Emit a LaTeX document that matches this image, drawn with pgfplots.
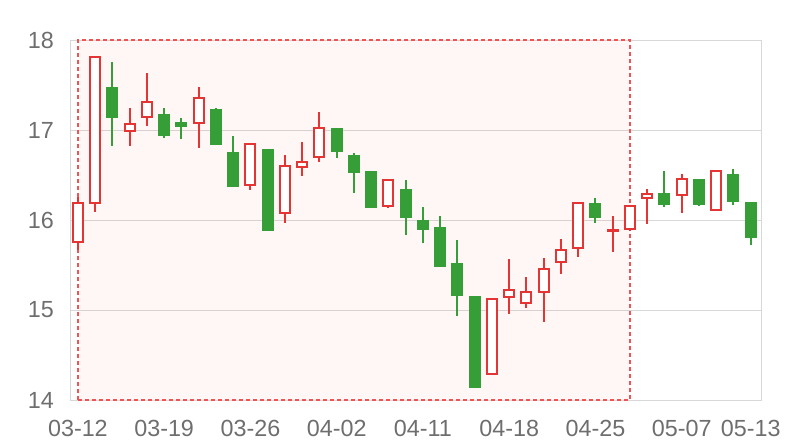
\documentclass[border=0pt]{standalone}
\usepackage{pgfplots}
\pgfplotsset{compat=1.18}
\usepackage{pgfplotstable}
\usepgfplotslibrary{statistics}
\usepackage{fontspec}
\setmainfont{Liberation Sans}
\definecolor{upred}{RGB}{228,52,52}
\definecolor{downgreen}{RGB}{54,158,54}
\definecolor{gridgray}{RGB}{216,216,216}
\definecolor{labelgray}{RGB}{110,110,110}
\definecolor{areared}{RGB}{238,84,84}
\definecolor{areafill}{RGB}{255,0,0}

% up candles (close >= open): red hollow
\pgfplotstableread{
x open close high low
0 15.76 16.19 16.26 15.67
1 16.19 17.81 17.81 16.09
3 16.99 17.07 17.25 16.82
4 17.14 17.31 17.63 17.04
7 17.08 17.36 17.48 16.80
10 16.39 16.85 16.85 16.33
12 16.08 16.60 16.72 15.97
13 16.59 16.64 16.87 16.49
14 16.70 17.02 17.20 16.65
18 16.16 16.44 16.44 16.13
24 14.29 15.12 15.13 14.29
25 15.14 15.22 15.57 14.96
26 15.08 15.20 15.37 15.02
27 15.20 15.46 15.58 14.87
28 15.53 15.67 15.79 15.40
29 15.69 16.19 16.19 15.59
31 15.88 15.89 16.04 15.65
32 15.90 16.16 16.16 15.88
33 16.24 16.29 16.34 15.96
35 16.28 16.46 16.51 16.08
37 16.11 16.54 16.56 16.10
}\uptable

% down candles (close < open): green filled
\pgfplotstableread{
x open close high low
2 17.47 17.15 17.76 16.82
5 17.17 16.94 17.25 16.91
6 17.08 17.04 17.13 16.90
8 17.22 16.84 17.24 16.83
9 16.75 16.38 16.93 16.38
11 16.78 15.89 16.78 15.89
15 17.01 16.77 17.01 16.69
16 16.71 16.53 16.74 16.30
17 16.53 16.15 16.54 16.14
19 16.33 16.03 16.44 15.83
20 15.99 15.90 16.14 15.74
21 15.91 15.49 16.04 15.49
22 15.51 15.17 15.78 14.93
23 15.15 14.14 15.15 14.14
30 16.18 16.03 16.25 15.97
34 16.29 16.18 16.54 16.14
36 16.45 16.18 16.45 16.16
38 16.50 16.21 16.57 16.17
39 16.19 15.81 16.19 15.72
}\downtable

% marked area
\pgfplotstableread{
x y
0 14
0 18
32 18
32 14
0 14
}\areatable

\begin{document}
\begin{tikzpicture}
\begin{axis}[
  scale only axis,
  width=517.5pt, height=270pt,
  xmin=-0.4, xmax=39.6,
  ymin=14, ymax=18,
  clip=false,
  axis line style={draw=gridgray, line width=0.75pt},
  ymajorgrids, grid style={draw=gridgray, line width=0.75pt},
  major tick length=0pt,
  xtick={0,5,10,15,20,25,30,35,39},
  xticklabels={03-12,03-19,03-26,04-02,04-11,04-18,04-25,05-07,05-13},
  ytick={14,15,16,17,18},
  /pgf/number format/assume math mode=true,
  ticklabel style={font=\fontsize{17.5pt}{17.5pt}\selectfont, text=labelgray, inner sep=0pt},
  xticklabel shift=15pt,
  yticklabel shift=12.75pt,
  boxplot/draw direction=y,
  boxplot/box extend=0.58,
  boxplot/whisker extend=0,
]
\addplot[draw=areared, fill=areafill, fill opacity=0.035, draw opacity=1,
  line width=2pt, dash pattern=on 3pt off 2.25pt]
  table[x=x, y=y] {\areatable} -- cycle;

\pgfplotstablegetrowsof{\uptable}
\pgfmathtruncatemacro\nup{\pgfplotsretval-1}
\pgfplotsforeachungrouped \i in {0,...,\nup}{%
  \pgfplotstablegetelem{\i}{x}\of\uptable \let\cx\pgfplotsretval
  \pgfplotstablegetelem{\i}{open}\of\uptable \let\co\pgfplotsretval
  \pgfplotstablegetelem{\i}{close}\of\uptable \let\cc\pgfplotsretval
  \pgfplotstablegetelem{\i}{high}\of\uptable \let\ch\pgfplotsretval
  \pgfplotstablegetelem{\i}{low}\of\uptable \let\cl\pgfplotsretval
  \edef\temp{\noexpand\addplot[draw=upred, fill=white, line width=1.5pt, solid,
    boxplot prepared={draw position=\cx, lower whisker=\cl, lower quartile=\co,
    median=\co, upper quartile=\cc, upper whisker=\ch}] coordinates {};}%
  \temp
}

\pgfplotstablegetrowsof{\downtable}
\pgfmathtruncatemacro\ndown{\pgfplotsretval-1}
\pgfplotsforeachungrouped \i in {0,...,\ndown}{%
  \pgfplotstablegetelem{\i}{x}\of\downtable \let\cx\pgfplotsretval
  \pgfplotstablegetelem{\i}{open}\of\downtable \let\co\pgfplotsretval
  \pgfplotstablegetelem{\i}{close}\of\downtable \let\cc\pgfplotsretval
  \pgfplotstablegetelem{\i}{high}\of\downtable \let\ch\pgfplotsretval
  \pgfplotstablegetelem{\i}{low}\of\downtable \let\cl\pgfplotsretval
  \edef\temp{\noexpand\addplot[draw=downgreen, fill=downgreen, line width=1.5pt, solid,
    boxplot prepared={draw position=\cx, lower whisker=\cl, lower quartile=\cc,
    median=\cc, upper quartile=\co, upper whisker=\ch}] coordinates {};}%
  \temp
}
\end{axis}
\pgfresetboundingbox
\path (current axis.south west) ++(-53.25pt,-30pt) rectangle ++(600pt,330pt);
\end{tikzpicture}
\end{document}
